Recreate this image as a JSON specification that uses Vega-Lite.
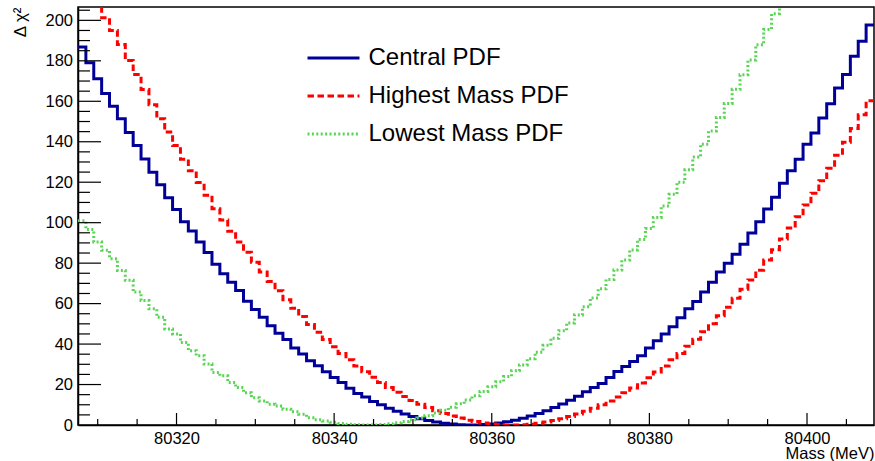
{
  "$schema": "https://vega.github.io/schema/vega-lite/v6.json",
  "width": 796,
  "height": 418,
  "autosize": {"type": "none"},
  "padding": {"left": 78, "top": 7, "right": 1, "bottom": 36},
  "background": "white",
  "config": {
    "font": "Liberation Sans",
    "view": {"stroke": "black", "strokeWidth": 1.5},
    "axis": {"domainColor": "black", "domainWidth": 1.5, "grid": false, "labelColor": "black", "titleColor": "black", "titleFontWeight": "normal"}
  },
  "datasets": {
    "xmaj": [{"v": 80320}, {"v": 80340}, {"v": 80360}, {"v": 80380}, {"v": 80400}],
    "xmin": [{"v": 80310}, {"v": 80315}, {"v": 80325}, {"v": 80330}, {"v": 80335}, {"v": 80345}, {"v": 80350}, {"v": 80355}, {"v": 80365}, {"v": 80370}, {"v": 80375}, {"v": 80385}, {"v": 80390}, {"v": 80395}, {"v": 80405}],
    "ymaj": [{"v": 20}, {"v": 40}, {"v": 60}, {"v": 80}, {"v": 100}, {"v": 120}, {"v": 140}, {"v": 160}, {"v": 180}, {"v": 200}],
    "ymin": [{"v": 5}, {"v": 10}, {"v": 15}, {"v": 25}, {"v": 30}, {"v": 35}, {"v": 45}, {"v": 50}, {"v": 55}, {"v": 65}, {"v": 70}, {"v": 75}, {"v": 85}, {"v": 90}, {"v": 95}, {"v": 105}, {"v": 110}, {"v": 115}, {"v": 125}, {"v": 130}, {"v": 135}, {"v": 145}, {"v": 150}, {"v": 155}, {"v": 165}, {"v": 170}, {"v": 175}, {"v": 185}, {"v": 190}, {"v": 195}, {"v": 205}],
    "hist": [
      {"x": 80307.5, "C": 186.8, "H": 225.0, "L": 100.9},
      {"x": 80308.5, "C": 179.0, "H": 216.8, "L": 96.6},
      {"x": 80309.5, "C": 171.1, "H": 208.8, "L": 90.5},
      {"x": 80310.5, "C": 163.8, "H": 201.3, "L": 86.4},
      {"x": 80311.5, "C": 157.6, "H": 195.0, "L": 82.2},
      {"x": 80312.5, "C": 151.4, "H": 188.1, "L": 76.4},
      {"x": 80313.5, "C": 144.6, "H": 180.1, "L": 71.5},
      {"x": 80314.5, "C": 138.1, "H": 173.2, "L": 65.7},
      {"x": 80315.5, "C": 131.5, "H": 165.8, "L": 61.5},
      {"x": 80316.5, "C": 124.9, "H": 158.3, "L": 57.4},
      {"x": 80317.5, "C": 118.8, "H": 151.4, "L": 53.3},
      {"x": 80318.5, "C": 112.3, "H": 144.8, "L": 47.5},
      {"x": 80319.5, "C": 106.5, "H": 138.1, "L": 45.0},
      {"x": 80320.5, "C": 100.4, "H": 131.4, "L": 40.8},
      {"x": 80321.5, "C": 95.9, "H": 125.7, "L": 36.7},
      {"x": 80322.5, "C": 90.5, "H": 119.8, "L": 34.2},
      {"x": 80323.5, "C": 85.2, "H": 113.6, "L": 30.1},
      {"x": 80324.5, "C": 79.4, "H": 106.9, "L": 26.0},
      {"x": 80325.5, "C": 74.8, "H": 101.3, "L": 24.3},
      {"x": 80326.5, "C": 70.6, "H": 95.8, "L": 21.0},
      {"x": 80327.5, "C": 66.5, "H": 90.5, "L": 18.5},
      {"x": 80328.5, "C": 61.2, "H": 85.4, "L": 16.0},
      {"x": 80329.5, "C": 57.1, "H": 80.4, "L": 13.5},
      {"x": 80330.5, "C": 53.3, "H": 75.6, "L": 11.9},
      {"x": 80331.5, "C": 49.1, "H": 70.9, "L": 10.3},
      {"x": 80332.5, "C": 45.3, "H": 66.3, "L": 9.4},
      {"x": 80333.5, "C": 42.2, "H": 61.9, "L": 7.8},
      {"x": 80334.5, "C": 38.1, "H": 57.7, "L": 6.6},
      {"x": 80335.5, "C": 35.1, "H": 53.6, "L": 5.3},
      {"x": 80336.5, "C": 31.8, "H": 49.7, "L": 3.6},
      {"x": 80337.5, "C": 29.3, "H": 45.9, "L": 2.6},
      {"x": 80338.5, "C": 26.3, "H": 42.2, "L": 2.0},
      {"x": 80339.5, "C": 23.5, "H": 38.7, "L": 1.3},
      {"x": 80340.5, "C": 21.0, "H": 35.4, "L": 0.8},
      {"x": 80341.5, "C": 18.2, "H": 32.2, "L": 0.4},
      {"x": 80342.5, "C": 15.6, "H": 29.2, "L": 0.1},
      {"x": 80343.5, "C": 13.9, "H": 26.3, "L": 0.0},
      {"x": 80344.5, "C": 11.6, "H": 23.6, "L": 0.05},
      {"x": 80345.5, "C": 10.0, "H": 21.0, "L": 0.25},
      {"x": 80346.5, "C": 8.3, "H": 18.5, "L": 0.6},
      {"x": 80347.5, "C": 6.8, "H": 16.2, "L": 1.1},
      {"x": 80348.5, "C": 5.4, "H": 14.1, "L": 1.75},
      {"x": 80349.5, "C": 4.2, "H": 12.1, "L": 2.55},
      {"x": 80350.5, "C": 3.15, "H": 10.3, "L": 3.5},
      {"x": 80351.5, "C": 2.2, "H": 8.6, "L": 4.6},
      {"x": 80352.5, "C": 1.5, "H": 7.1, "L": 5.9},
      {"x": 80353.5, "C": 0.9, "H": 5.7, "L": 7.3},
      {"x": 80354.5, "C": 0.44, "H": 4.5, "L": 8.8},
      {"x": 80355.5, "C": 0.15, "H": 3.4, "L": 10.5},
      {"x": 80356.5, "C": 0.01, "H": 2.4, "L": 12.4},
      {"x": 80357.5, "C": 0.03, "H": 1.7, "L": 14.4},
      {"x": 80358.5, "C": 0.2, "H": 1.0, "L": 16.6},
      {"x": 80359.5, "C": 0.52, "H": 0.55, "L": 18.9},
      {"x": 80360.5, "C": 1.0, "H": 0.22, "L": 21.4},
      {"x": 80361.5, "C": 1.6, "H": 0.04, "L": 24.0},
      {"x": 80362.5, "C": 2.4, "H": 0.01, "L": 26.8},
      {"x": 80363.5, "C": 3.35, "H": 0.13, "L": 29.7},
      {"x": 80364.5, "C": 4.4, "H": 0.41, "L": 32.8},
      {"x": 80365.5, "C": 5.7, "H": 0.85, "L": 36.0},
      {"x": 80366.5, "C": 7.1, "H": 1.44, "L": 39.4},
      {"x": 80367.5, "C": 8.6, "H": 2.19, "L": 42.9},
      {"x": 80368.5, "C": 10.4, "H": 3.1, "L": 46.6},
      {"x": 80369.5, "C": 12.2, "H": 4.16, "L": 50.4},
      {"x": 80370.5, "C": 14.2, "H": 5.38, "L": 54.4},
      {"x": 80371.5, "C": 16.4, "H": 6.76, "L": 58.5},
      {"x": 80372.5, "C": 18.5, "H": 8.29, "L": 62.8},
      {"x": 80373.5, "C": 20.5, "H": 9.98, "L": 67.3},
      {"x": 80374.5, "C": 23.5, "H": 11.82, "L": 71.9},
      {"x": 80375.5, "C": 26.5, "H": 13.82, "L": 76.6},
      {"x": 80376.5, "C": 28.9, "H": 15.98, "L": 81.5},
      {"x": 80377.5, "C": 31.4, "H": 18.29, "L": 86.5},
      {"x": 80378.5, "C": 34.2, "H": 20.76, "L": 91.7},
      {"x": 80379.5, "C": 38.1, "H": 23.38, "L": 97.1},
      {"x": 80380.5, "C": 41.7, "H": 26.16, "L": 102.6},
      {"x": 80381.5, "C": 45.0, "H": 29.1, "L": 108.2},
      {"x": 80382.5, "C": 48.6, "H": 32.2, "L": 114.0},
      {"x": 80383.5, "C": 53.0, "H": 35.4, "L": 120.0},
      {"x": 80384.5, "C": 57.4, "H": 38.9, "L": 126.1},
      {"x": 80385.5, "C": 61.0, "H": 42.4, "L": 132.4},
      {"x": 80386.5, "C": 65.7, "H": 46.1, "L": 138.8},
      {"x": 80387.5, "C": 70.6, "H": 50.0, "L": 145.3},
      {"x": 80388.5, "C": 75.6, "H": 54.0, "L": 152.0},
      {"x": 80389.5, "C": 80.0, "H": 58.2, "L": 158.9},
      {"x": 80390.5, "C": 84.4, "H": 62.6, "L": 165.9},
      {"x": 80391.5, "C": 89.3, "H": 67.1, "L": 173.1},
      {"x": 80392.5, "C": 94.9, "H": 71.7, "L": 180.4},
      {"x": 80393.5, "C": 100.4, "H": 76.5, "L": 187.9},
      {"x": 80394.5, "C": 106.7, "H": 81.5, "L": 195.5},
      {"x": 80395.5, "C": 112.6, "H": 86.6, "L": 203.3},
      {"x": 80396.5, "C": 119.5, "H": 91.9, "L": 211.2},
      {"x": 80397.5, "C": 125.7, "H": 97.4, "L": 219.2},
      {"x": 80398.5, "C": 131.4, "H": 102.9, "L": 227.3},
      {"x": 80399.5, "C": 138.8, "H": 108.7, "L": 235.6},
      {"x": 80400.5, "C": 144.3, "H": 114.6, "L": 244.0},
      {"x": 80401.5, "C": 151.7, "H": 120.7, "L": 252.6},
      {"x": 80402.5, "C": 158.8, "H": 126.9, "L": 261.3},
      {"x": 80403.5, "C": 166.6, "H": 133.3, "L": 270.2},
      {"x": 80404.5, "C": 173.2, "H": 139.8, "L": 279.2},
      {"x": 80405.5, "C": 182.3, "H": 146.5, "L": 288.4},
      {"x": 80406.5, "C": 189.7, "H": 153.3, "L": 297.7},
      {"x": 80407.5, "C": 197.7, "H": 160.3, "L": 307.2},
      {"x": 80408.5, "C": 197.7, "H": 160.3, "L": 307.2}
    ]
  },
  "layer": [
    {
      "data": {"name": "hist"},
      "transform": [{"fold": ["C", "H", "L"], "as": ["series", "chi2"]}],
      "mark": {"type": "line", "interpolate": "step-after", "strokeWidth": 3, "clip": true},
      "encoding": {
        "x": {
          "field": "x", "type": "quantitative",
          "scale": {"domain": [80307.5, 80408.5], "nice": false, "zero": false},
          "axis": {
            "values": [80320, 80340, 80360, 80380, 80400],
            "format": "d",
            "labelOverlap": false, "labelFlush": false,
            "labelFontSize": 16.5, "labelPadding": 5,
            "ticks": false,
            "title": "Mass (MeV)", "titleFontSize": 16.5, "titleAnchor": "end", "titlePadding": -1
          }
        },
        "y": {
          "field": "chi2", "type": "quantitative",
          "scale": {"domain": [0, 206.6], "nice": false, "zero": true},
          "axis": {
            "values": [0, 20, 40, 60, 80, 100, 120, 140, 160, 180, 200],
            "format": "d",
            "labelOverlap": false, "labelFlush": false,
            "labelFontSize": 16.5, "labelPadding": 5.5,
            "ticks": false,
            "title": "Δ χ²", "titleFontSize": 17, "titleAnchor": "end", "titlePadding": 15
          }
        },
        "color": {
          "field": "series", "type": "nominal",
          "scale": {"domain": ["C", "H", "L"], "range": ["#000099", "#ff0000", "#59d454"]},
          "legend": {
            "orient": "none", "legendX": 241, "legendY": 36.5, "title": null, "padding": 0,
            "symbolType": "M-2,0H2", "symbolSize": 676, "symbolStrokeWidth": 3, "symbolFillColor": "transparent",
            "labelFontSize": 24, "labelOffset": 20.5, "labelColor": "black", "labelLimit": 0, "rowPadding": 11,
            "labelExpr": "datum.value == 'C' ? 'Central PDF' : datum.value == 'H' ? 'Highest Mass PDF' : 'Lowest Mass PDF'"
          }
        },
        "strokeDash": {
          "field": "series", "type": "nominal",
          "scale": {"domain": ["C", "H", "L"], "range": [[1, 0], [6.5, 3.5], [2, 2.4]]}
        }
      }
    },
    {
      "data": {"name": "xmaj"},
      "mark": {"type": "rule", "color": "black", "strokeWidth": 1.2},
      "encoding": {
        "x": {"field": "v", "type": "quantitative"},
        "y": {"datum": 0, "type": "quantitative"},
        "y2": {"datum": 5.93}
      }
    },
    {
      "data": {"name": "xmin"},
      "mark": {"type": "rule", "color": "black", "strokeWidth": 1.2},
      "encoding": {
        "x": {"field": "v", "type": "quantitative"},
        "y": {"datum": 0, "type": "quantitative"},
        "y2": {"datum": 2.97}
      }
    },
    {
      "data": {"name": "ymaj"},
      "mark": {"type": "rule", "color": "black", "strokeWidth": 1.2},
      "encoding": {
        "y": {"field": "v", "type": "quantitative"},
        "x": {"datum": 80307.5, "type": "quantitative"},
        "x2": {"datum": 80310.42}
      }
    },
    {
      "data": {"name": "ymin"},
      "mark": {"type": "rule", "color": "black", "strokeWidth": 1.2},
      "encoding": {
        "y": {"field": "v", "type": "quantitative"},
        "x": {"datum": 80307.5, "type": "quantitative"},
        "x2": {"datum": 80309.02}
      }
    }
  ]
}
